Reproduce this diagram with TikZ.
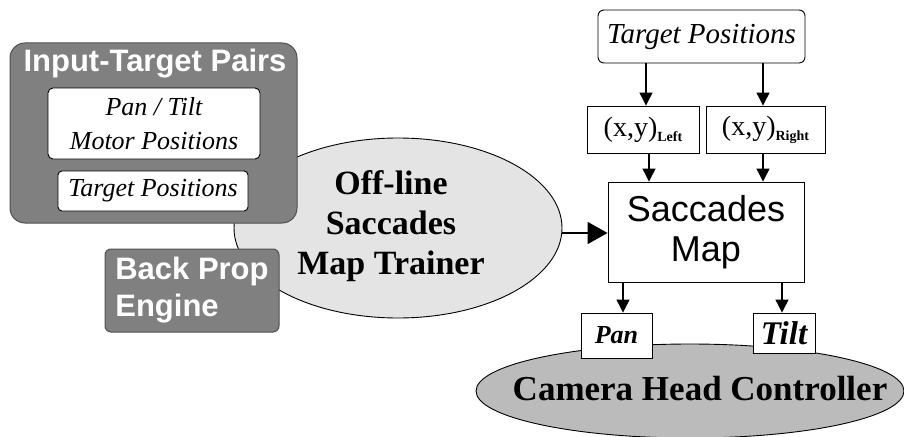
\documentclass[tikz,border=0pt]{standalone}
\usepackage{fontspec}
\setmainfont{Liberation Serif}
\newfontfamily\arialf{Liberation Sans}
\usetikzlibrary{arrows.meta,shapes.geometric}
\definecolor{darkbox}{HTML}{808080}
\definecolor{darkedge}{HTML}{505050}
\definecolor{lightell}{HTML}{E4E4E4}
\definecolor{camell}{HTML}{BBBBBB}
\tikzset{
  whitebox/.style={draw=black, fill=white, line width=0.9pt, inner sep=0pt},
  darkpanel/.style={draw=darkedge, fill=darkbox, line width=1pt, inner sep=0pt},
  arr/.style={line width=1.2pt, -{Triangle[length=13pt,width=13pt]}},
  bigarr/.style={line width=1.6pt, -{Triangle[length=20pt,width=22pt]}},
  ital/.style={font=\itshape\fontsize{26}{34}\selectfont},
}
\newcommand{\xysub}[1]{{\fontsize{28}{30}\selectfont(x,y)}\raisebox{-5pt}{\fontsize{14}{14}\selectfont\bfseries #1}}
\begin{document}
\begin{tikzpicture}[x=1pt,y=-1pt]
\useasboundingbox (0,0) rectangle (904,436);
% left ellipse
\node[ellipse, draw=black, fill=lightell, line width=0.9pt, minimum width=328pt, minimum height=180pt, inner sep=0pt] (trainer) at (398,228) {};
\node[align=center, font=\bfseries\fontsize{34}{40}\selectfont] (trainertxt) at (391,226) {Off-line\\Saccades\\Map Trainer};
% input-target panel
\node[darkpanel, rounded corners=15pt, minimum width=287pt, minimum height=180pt] (itp) at (153.5,133) {};
\node[font=\arialf\bfseries\fontsize{31}{32}\selectfont, text=white] (itptitle) at (155,64) {Input-Target Pairs};
\node[whitebox, rounded corners=5pt, minimum width=212pt, minimum height=71pt, align=center, ital] (pt) at (154,123.5) {Pan / Tilt\\Motor Positions};
\node[whitebox, rounded corners=4pt, minimum width=190pt, minimum height=40pt, ital] (tpin) at (153,191) {Target Positions};
% back prop
\node[darkpanel, rounded corners=6pt, minimum width=174pt, minimum height=83pt, align=left,
  font=\arialf\bfseries\fontsize{31}{37}\selectfont, text=white] (bp) at (192,290.5) {Back Prop\\Engine};
% right side
\node[whitebox, rounded corners=6pt, minimum width=207pt, minimum height=53pt, font=\itshape\fontsize{29}{32}\selectfont] (ttop) at (701.5,36.5) {Target Positions};
\node[whitebox, minimum width=112pt, minimum height=47pt] (xyl) at (643,129.5) {\xysub{Left}};
\node[whitebox, minimum width=119pt, minimum height=47pt] (xyr) at (765.5,129.5) {\xysub{Right}};
\node[whitebox, minimum width=196pt, minimum height=100pt, align=center,
  font=\arialf\fontsize{36}{40}\selectfont] (sm) at (706,232) {Saccades\\Map};
% camera ellipse
\node[ellipse, draw=black, fill=camell, line width=0.9pt, minimum width=428pt, minimum height=94pt, inner sep=0pt] (cam) at (690,391) {};
\node[font=\bfseries\fontsize{35}{36}\selectfont] (camtxt) at (700,389) {Camera Head Controller};
\node[whitebox, minimum width=71pt, minimum height=45pt, font=\itshape\bfseries\fontsize{26}{30}\selectfont] (pan) at (616.5,335.5) {Pan};
\node[whitebox, minimum width=62pt, minimum height=40pt, font=\itshape\bfseries\fontsize{33}{33}\selectfont] (tilt) at (784,333) {Tilt};
% arrows
\draw[arr] ([xshift=-55.5pt]ttop.south) -- ([xshift=-55.5pt]ttop.south |- xyl.north);
\draw[arr] ([xshift=61.5pt]ttop.south) -- ([xshift=61.5pt]ttop.south |- xyr.north);
\draw[arr] ([xshift=6pt]xyl.south) -- ([xshift=6pt]xyl.south |- sm.north);
\draw[arr] ([xshift=-2.5pt]xyr.south) -- ([xshift=-2.5pt]xyr.south |- sm.north);
\draw[arr] ([xshift=-83pt]sm.south) -- ([xshift=-83pt]sm.south |- pan.north);
\draw[arr] ([xshift=76pt]sm.south) -- ([xshift=76pt]sm.south |- tilt.north);
\draw[bigarr] (trainer.east |- 0,233) -- (sm.west |- 0,233);
\end{tikzpicture}
\end{document}
